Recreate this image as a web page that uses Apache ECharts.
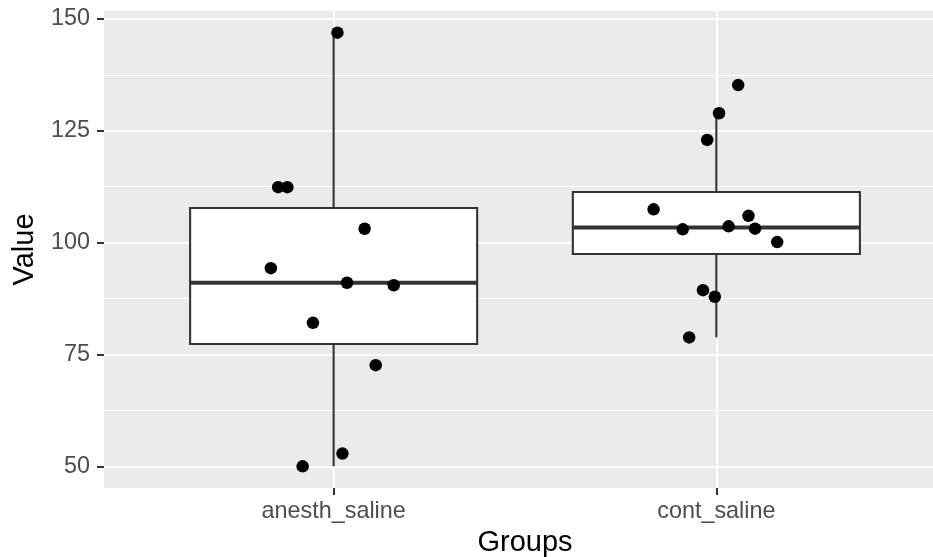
<!DOCTYPE html>
<html>
<head>
<meta charset="utf-8">
<script src="https://cdn.jsdelivr.net/npm/echarts@6/dist/echarts.min.js"></script>
<style>
  html, body { margin: 0; padding: 0; background: #ffffff; }
  #chart { width: 933px; height: 557px; }
</style>
</head>
<body>
<div id="chart"></div>
<script>
// Groups on the x axis
const groups = ['anesth_saline', 'cont_saline'];

// Observations per group, with the horizontal jitter of each point (in category units)
const anesthValues = [146.9, 112.4, 112.4, 103.1, 94.3, 91.05, 90.5, 82.1, 72.65, 52.9, 50.05];
const anesthJitter = [0.010, -0.145, -0.121, 0.081, -0.164, 0.035, 0.157, -0.054, 0.110, 0.023, -0.081];
const contValues = [135.2, 128.9, 122.95, 107.45, 106.0, 102.98, 103.65, 103.12, 100.14, 89.4, 87.93, 78.84];
const contJitter = [0.057, 0.007, -0.024, -0.164, 0.084, -0.088, 0.032, 0.101, 0.159, -0.035, -0.004, -0.071];

// Y axis breaks
const yTicks = [50, 75, 100, 125, 150];
const yMinorTicks = [62.5, 87.5, 112.5, 137.5];

const groupValues = [anesthValues, contValues];
const groupJitter = [anesthJitter, contJitter];

// Quantile (linear interpolation between order statistics)
function quantile(sorted, p) {
  const h = (sorted.length - 1) * p;
  const lo = Math.floor(h), hi = Math.ceil(h);
  return sorted[lo] + (h - lo) * (sorted[hi] - sorted[lo]);
}

// [q1, median, q3, lower whisker, upper whisker]
function boxStats(values) {
  const s = values.slice().sort((a, b) => a - b);
  const q1 = quantile(s, 0.25), med = quantile(s, 0.5), q3 = quantile(s, 0.75);
  const iqr = q3 - q1;
  const lo = s.find(v => v >= q1 - 1.5 * iqr);
  const hi = s.slice().reverse().find(v => v <= q3 + 1.5 * iqr);
  return [q1, med, q3, lo, hi];
}

const boxData = groupValues.map((vals, i) => [i + 1].concat(boxStats(vals)));
const pointData = [];
groupValues.forEach((vals, g) => {
  vals.forEach((v, i) => pointData.push([g + 1 + groupJitter[g][i], v]));
});

// Continuous range padded by 5% on each side
const allValues = anesthValues.concat(contValues);
const dMin = Math.min.apply(null, allValues), dMax = Math.max.apply(null, allValues);
const pad = (dMax - dMin) * 0.05;
const yMin = dMin - pad, yMax = dMax + pad;

const FONT = 'Liberation Sans, Arial, Helvetica, sans-serif';
const INK = '#333333';

const chart = echarts.init(document.getElementById('chart'), null, { renderer: 'canvas' });

chart.setOption({
  animation: false,
  backgroundColor: '#ffffff',
  grid: {
    left: 104, top: 11, right: -13, bottom: 69,
    show: true, backgroundColor: '#EBEBEB', borderWidth: 0,
    containLabel: false,
    outerBoundsMode: 'none'
  },
  xAxis: {
    type: 'value',
    min: 0.4, max: 2.6,
    name: 'Groups',
    nameLocation: 'middle',
    nameGap: 55,
    nameMoveOverlap: false,
    nameTextStyle: { fontFamily: FONT, fontSize: 29, color: '#000000', verticalAlign: 'middle' },
    axisLine: { show: false },
    axisTick: { show: true, customValues: [1, 2], length: 7, lineStyle: { color: INK, width: 2 } },
    axisLabel: {
      customValues: [1, 2],
      formatter: v => groups[Math.round(v) - 1],
      fontFamily: FONT, fontSize: 23.4, color: '#4D4D4D', margin: 12
    },
    splitLine: { show: true, lineStyle: { color: '#ffffff', width: 2.1 } }
  },
  yAxis: [{
    type: 'value',
    min: yMin, max: yMax,
    name: 'Value',
    nameLocation: 'middle',
    nameGap: 79,
    nameRotate: 90,
    nameMoveOverlap: false,
    nameTextStyle: { fontFamily: FONT, fontSize: 29, color: '#000000', verticalAlign: 'middle' },
    axisLine: { show: false },
    axisTick: { show: true, customValues: yTicks, length: 7, lineStyle: { color: INK, width: 2 } },
    axisLabel: {
      customValues: yTicks,
      fontFamily: FONT, fontSize: 23.4, color: '#4D4D4D', margin: 14
    },
    splitLine: { show: true, lineStyle: { color: '#ffffff', width: 2.1 } }
  }, {
    type: 'value',
    position: 'left',
    min: yMin, max: yMax,
    axisLine: { show: false },
    axisTick: { show: false, customValues: yMinorTicks },
    axisLabel: { show: false, customValues: yMinorTicks },
    splitLine: { show: true, lineStyle: { color: '#ffffff', width: 1.05 } }
  }],
  series: [{
    type: 'custom',
    name: 'box',
    z: 2,
    data: boxData,
    encode: { x: 0, y: [1, 2, 3, 4, 5] },
    renderItem: function (params, api) {
      const x = api.value(0);
      const q1 = api.value(1), med = api.value(2), q3 = api.value(3);
      const lo = api.value(4), hi = api.value(5);
      const half = 0.375;
      const tl = api.coord([x - half, q3]);
      const br = api.coord([x + half, q1]);
      const c = api.coord([x, med]);
      const top = api.coord([x, hi]);
      const bot = api.coord([x, lo]);
      const stroke = { stroke: INK, lineWidth: 2.1 };
      return {
        type: 'group',
        children: [
          { type: 'line', shape: { x1: c[0], y1: top[1], x2: c[0], y2: tl[1] }, style: stroke },
          { type: 'line', shape: { x1: c[0], y1: br[1], x2: c[0], y2: bot[1] }, style: stroke },
          { type: 'rect', shape: { x: tl[0], y: tl[1], width: br[0] - tl[0], height: br[1] - tl[1] },
            style: { fill: '#ffffff', stroke: INK, lineWidth: 2.1 } },
          { type: 'line', shape: { x1: tl[0], y1: c[1], x2: br[0], y2: c[1] },
            style: { stroke: INK, lineWidth: 4.2 } }
        ]
      };
    }
  }, {
    type: 'scatter',
    name: 'points',
    z: 3,
    data: pointData,
    symbol: 'circle',
    symbolSize: 12.5,
    itemStyle: { color: '#000000', opacity: 1 },
    silent: true
  }]
});
</script>
</body>
</html>
